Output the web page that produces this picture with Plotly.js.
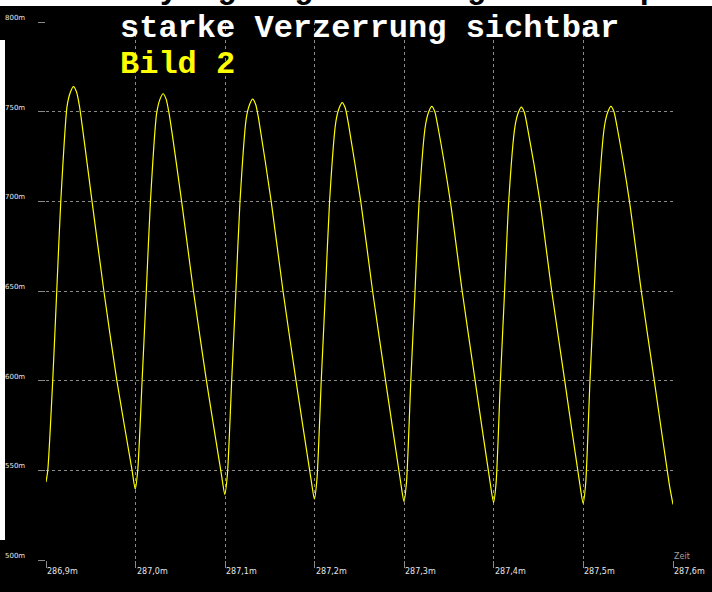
<!DOCTYPE html>
<html>
<head>
<meta charset="utf-8">
<script src="https://cdn.plot.ly/plotly-3.0.1.min.js"></script>
<style>html,body{margin:0;padding:0;background:#000;}#chart{width:712px;height:592px;}</style>
</head>
<body>
<div id="chart"></div>
<script>
// Time axis in ms, voltage in mV
const timeMs = [
  286.9000, 286.9020, 286.9075, 286.9120, 286.9165, 286.9235, 286.9273, 286.9307, 286.9341, 286.9374, 286.9514, 286.9646, 286.9791, 286.9959, 286.9996,
  287.0025, 287.0073, 287.0120, 287.0166, 287.0235, 287.0273, 287.0307, 287.0341, 287.0374, 287.0514, 287.0646, 287.0791, 287.0959, 287.0996,
  287.1025, 287.1073, 287.1120, 287.1166, 287.1235, 287.1273, 287.1307, 287.1341, 287.1374, 287.1514, 287.1646, 287.1791, 287.1959, 287.1996,
  287.2025, 287.2073, 287.2120, 287.2166, 287.2235, 287.2273, 287.2307, 287.2341, 287.2374, 287.2514, 287.2646, 287.2791, 287.2959, 287.2996,
  287.3025, 287.3073, 287.3120, 287.3166, 287.3235, 287.3273, 287.3307, 287.3341, 287.3374, 287.3514, 287.3646, 287.3791, 287.3959, 287.3996,
  287.4025, 287.4073, 287.4120, 287.4166, 287.4235, 287.4273, 287.4307, 287.4341, 287.4374, 287.4514, 287.4646, 287.4791, 287.4959, 287.4996,
  287.5025, 287.5073, 287.5120, 287.5166, 287.5235, 287.5273, 287.5307, 287.5341, 287.5374, 287.5514, 287.5646, 287.5791, 287.5959, 287.6000
];
const voltageMv = [
  543.5, 550, 600, 650, 700, 753, 761, 764, 761, 753, 700, 650, 600, 550.5, 539.5,
  550.5, 600, 650, 700, 749, 757, 760, 757, 749, 700, 650, 600, 547.5, 536.5,
  547.5, 600, 650, 700, 746, 754, 757, 754, 746, 700, 650, 600, 545, 534,
  545, 600, 650, 700, 744, 752, 755, 752, 744, 700, 650, 600, 543.5, 532.5,
  543.5, 600, 650, 700, 742, 750, 753, 750, 742, 700, 650, 600, 543, 532,
  543, 600, 650, 700, 741.5, 749.5, 752.5, 749.5, 741.5, 700, 650, 600, 542.5, 531.5,
  542.5, 600, 650, 700, 742, 750, 753, 750, 742, 700, 650, 600, 542, 531
];
const xTickVals = [286.9, 287.0, 287.1, 287.2, 287.3, 287.4, 287.5, 287.6];
const xTickText = ["286,9m", "287,0m", "287,1m", "287,2m", "287,3m", "287,4m", "287,5m", "287,6m"];
const yTickVals = [500, 550, 600, 650, 700, 750, 800];
const yTickText = ["500m", "550m", "600m", "650m", "700m", "750m", "800m"];
const xAxisName = "Zeit";
const titleText = "starke Verzerrung sichtbar";
const subtitleText = "Bild 2";
const cutLineText = "   y  g   g        g        p";
const legendNames = ["V(5)", "V(8)"];
const legendColors = ["#ffff00", "#ff00ff"];

const gridColor = "#8a8a8a";
const labelColor = "#e6e6e6";

const annotations = [];
xTickVals.forEach((v, i) => annotations.push({
  xref: "x", x: v, yref: "paper", y: 0, xanchor: "left", yanchor: "top",
  yshift: -5, xshift: -1, showarrow: false, text: xTickText[i],
  font: {family: "DejaVu Sans", size: 8, color: labelColor}
}));
yTickVals.forEach((v, i) => annotations.push({
  xref: "paper", x: 0, xshift: -43, yref: "y", y: v, xanchor: "left", yanchor: "middle",
  yshift: 4, showarrow: false, text: yTickText[i],
  font: {family: "DejaVu Sans", size: 7, color: labelColor}
}));
annotations.push({
  xref: "x", x: xTickVals[xTickVals.length - 1], yref: "y", y: yTickVals[0],
  xanchor: "left", yanchor: "bottom", yshift: -3, xshift: -1, showarrow: false, text: xAxisName,
  font: {family: "DejaVu Sans", size: 8, color: "#a0a0a0"}
});
annotations.push({
  xref: "paper", x: 72 / 627, yref: "paper", y: 1 - (29 - 22) / 538,
  xanchor: "left", yanchor: "middle", showarrow: false, text: "<b>" + titleText + "</b>",
  font: {family: "Liberation Mono", size: 32, color: "#ffffff"}
});
annotations.push({
  xref: "paper", x: 72 / 627, yref: "paper", y: 1 - (64 - 22) / 538,
  xanchor: "left", yanchor: "middle", showarrow: false, text: "<b>" + subtitleText + "</b>",
  font: {family: "Liberation Mono", size: 32, color: "#ffff00"}
});
annotations.push({
  xref: "paper", x: 54 / 627, yref: "paper", y: 1 + (22 + 11) / 538,
  xanchor: "left", yanchor: "middle", showarrow: false, text: "<b>" + cutLineText.replace(/ /g, "&nbsp;") + "</b>",
  font: {family: "Liberation Mono", size: 32, color: "#000000"}
});
legendNames.forEach((n, i) => annotations.push({
  xref: "paper", x: (6 + i * 27 - 46) / 627, yref: "paper", y: -(590 - 560) / 538,
  xanchor: "left", yanchor: "top", showarrow: false, text: n,
  font: {family: "DejaVu Sans", size: 9, color: legendColors[i]}
}));

const layout = {
  width: 712, height: 592,
  margin: {l: 46, r: 39, t: 22, b: 32, pad: 0},
  paper_bgcolor: "#000000", plot_bgcolor: "#000000",
  showlegend: false,
  xaxis: {
    range: [286.9, 287.6], tickvals: xTickVals, showticklabels: false,
    showgrid: true, gridcolor: gridColor, griddash: "dot", gridwidth: 1,
    ticks: "outside", ticklen: 7, tickcolor: gridColor, tickwidth: 1,
    zeroline: false, showline: false, fixedrange: true
  },
  yaxis: {
    range: [500, 800], tickvals: yTickVals, showticklabels: false,
    showgrid: true, gridcolor: gridColor, griddash: "dot", gridwidth: 1,
    ticks: "outside", ticklen: 7, tickcolor: gridColor, tickwidth: 1,
    zeroline: false, showline: false, fixedrange: true
  },
  shapes: [
    {type: "rect", xref: "paper", yref: "paper", x0: -46 / 627, x1: 1 + 39 / 627,
     y0: 1 + 16 / 538, y1: 1 + 22 / 538, fillcolor: "#ffffff", line: {width: 0}, layer: "below"},
    {type: "rect", xref: "paper", yref: "paper", x0: -46 / 627, x1: -41 / 627,
     y0: 1 - (40 - 22) / 538, y1: 1 - (540 - 22) / 538, fillcolor: "#ffffff", line: {width: 0}, layer: "below"}
  ],
  annotations: annotations
};

Plotly.newPlot("chart", [{
  type: "scatter", mode: "lines", x: timeMs, y: voltageMv, name: legendNames[0],
  line: {color: "#ffff00", width: 1.2, shape: "spline", smoothing: 0.6},
  hoverinfo: "skip"
}], layout, {staticPlot: true, displayModeBar: false});
</script>
</body>
</html>
